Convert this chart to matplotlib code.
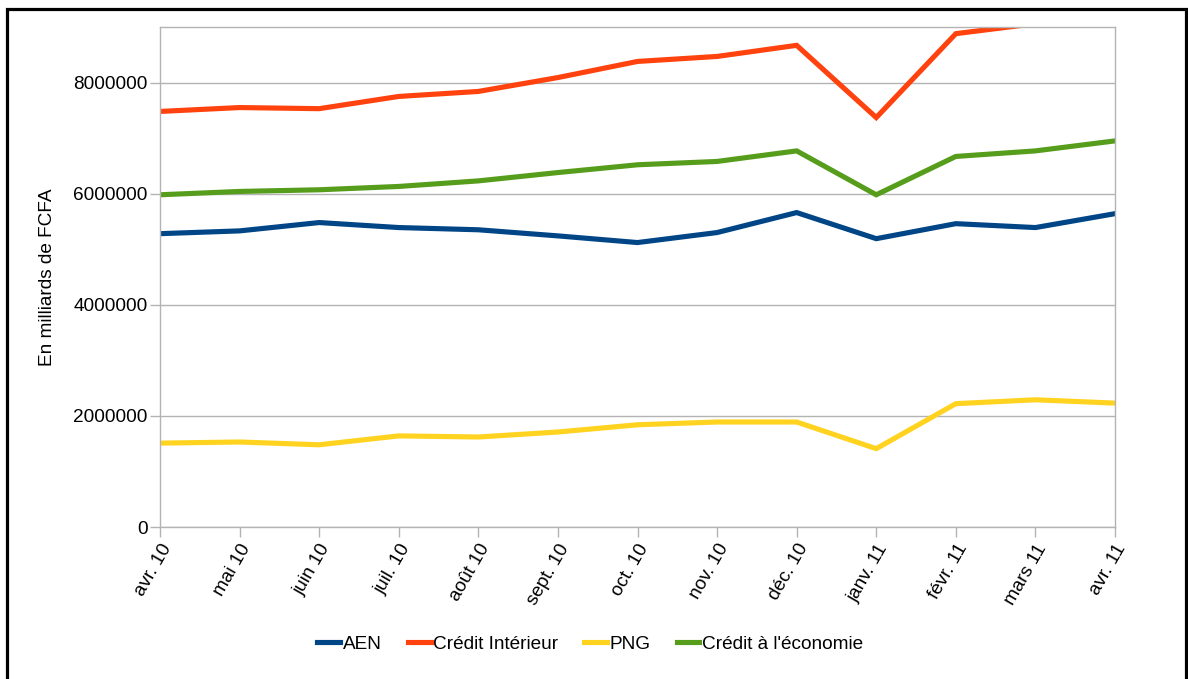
import matplotlib
matplotlib.use("Agg")
import matplotlib.pyplot as plt
from matplotlib.patches import Rectangle

plt.rcParams['font.family'] = ['Liberation Sans', 'DejaVu Sans']

months = ["avr. 10", "mai 10", "juin 10", "juil. 10", "août 10", "sept. 10",
          "oct. 10", "nov. 10", "déc. 10", "janv. 11", "févr. 11", "mars 11", "avr. 11"]

aen = [5280000, 5330000, 5480000, 5390000, 5350000, 5240000, 5120000,
       5300000, 5660000, 5190000, 5460000, 5390000, 5640000]
credit_interieur = [7480000, 7550000, 7530000, 7750000, 7840000, 8090000, 8380000,
                    8470000, 8670000, 7370000, 8880000, 9060000, 9300000]
png = [1510000, 1530000, 1480000, 1640000, 1620000, 1710000, 1840000,
       1890000, 1890000, 1410000, 2220000, 2290000, 2230000]
credit_economie = [5980000, 6040000, 6070000, 6130000, 6230000, 6380000, 6520000,
                   6580000, 6770000, 5980000, 6670000, 6770000, 6950000]

series = [
    ("AEN", aen, "#004586"),
    ("Crédit Intérieur", credit_interieur, "#ff420e"),
    ("PNG", png, "#ffd320"),
    ("Crédit à l'économie", credit_economie, "#579d1c"),
]

fs = 13.7

fig = plt.figure(figsize=(11.88, 6.79), dpi=100)
ax = fig.add_axes([160 / 1188, 1 - 527 / 679, 955 / 1188, 500 / 679])

x = list(range(len(months)))
for name, vals, color in series:
    ax.plot(x, vals, color=color, lw=3.7, label=name, solid_joinstyle="miter")

ax.set_xlim(0, len(months) - 1)
ax.set_ylim(0, 9000000)
ax.set_yticks([0, 2000000, 4000000, 6000000, 8000000])
ax.set_yticklabels(["0", "2000000", "4000000", "6000000", "8000000"])
ax.set_xticks(x)
ax.set_xticklabels(months, rotation=60, ha="right", rotation_mode="anchor")

ax.grid(axis="y", color="#b3b3b3", lw=1)
ax.set_axisbelow(True)
for s in ax.spines.values():
    s.set_color("#b3b3b3")
    s.set_linewidth(1)
ax.tick_params(axis="both", colors="#b3b3b3", labelcolor="black", labelsize=fs,
               length=7, width=1, direction="out")
ax.tick_params(axis="x", pad=3)
ax.tick_params(axis="y", pad=2)

ax.set_ylabel("En milliards de FCFA", fontsize=fs, labelpad=12)

fig.legend(loc="center", bbox_to_anchor=(0.497, 1 - 644 / 679), ncol=4,
           frameon=False, fontsize=fs, handlelength=1.2, handletextpad=0.15,
           columnspacing=1.35)

border = Rectangle((6.5 / 1188, -0.1), (1185.5 - 6.5) / 1188, 1 - 9.5 / 679 + 0.1,
                   transform=fig.transFigure, fill=False, edgecolor="black",
                   lw=2.3, clip_on=False)
fig.add_artist(border)

fig.savefig("out.png", dpi=100)
